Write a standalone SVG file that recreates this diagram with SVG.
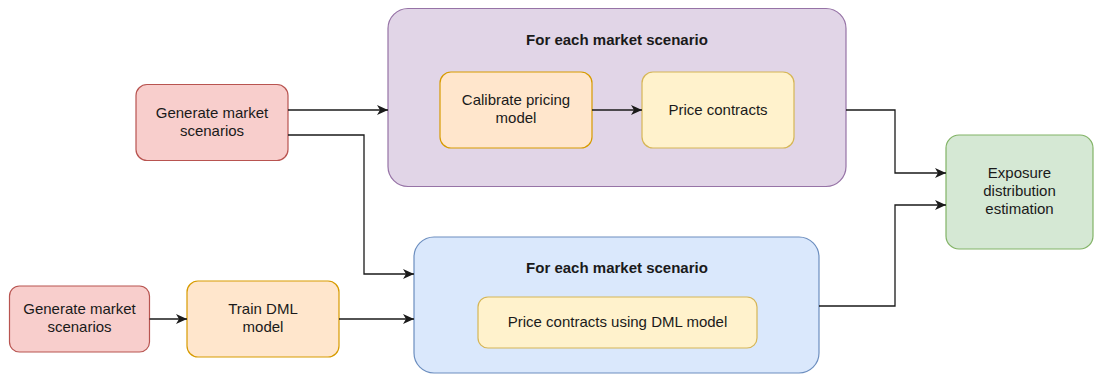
<svg xmlns="http://www.w3.org/2000/svg" width="1094" height="374" viewBox="0 0 1094 374">
<style>
text{font-family:"Liberation Sans",Arial,Helvetica,sans-serif;font-size:15px;fill:#1a1a1a;text-anchor:middle}
.t{font-weight:bold}
.red{fill:#f8cecc;stroke:#b85450}
.pur{fill:#e1d5e7;stroke:#9673a6}
.org{fill:#ffe6cc;stroke:#d79b00}
.yel{fill:#fff2cc;stroke:#d6b656}
.blu{fill:#dae8fc;stroke:#6c8ebf}
.grn{fill:#d5e8d4;stroke:#82b366}
rect{stroke-width:1.2}
.e{fill:none;stroke:#1a1a1a;stroke-width:1.3}
</style>
<defs>
<marker id="a" markerUnits="userSpaceOnUse" markerWidth="12" markerHeight="11" refX="11" refY="5.5" orient="auto">
<path d="M0,0.5 L11,5.5 L0,10.5 L3,5.5 Z" fill="#1a1a1a"/>
</marker>
</defs>
<g id="scenario-box-top">
<rect class="pur" x="388" y="8.5" width="458" height="178" rx="20"/>
<text class="t" x="617" y="45">For each market scenario</text>
</g>
<g id="scenario-box-bottom">
<rect class="blu" x="414" y="237" width="405" height="136" rx="20"/>
<text class="t" x="617" y="273">For each market scenario</text>
</g>
<g id="gen1">
<rect class="red" x="136" y="84.5" width="152" height="76" rx="11"/>
<text x="212" y="118">Generate market</text>
<text x="212" y="136">scenarios</text>
</g>
<g id="calibrate">
<rect class="org" x="440" y="72" width="152" height="76" rx="11"/>
<text x="516" y="105">Calibrate pricing</text>
<text x="516" y="123">model</text>
</g>
<g id="price">
<rect class="yel" x="642" y="72" width="152" height="76" rx="11"/>
<text x="718" y="115">Price contracts</text>
</g>
<g id="exposure">
<rect class="grn" x="946" y="135" width="147" height="114" rx="13"/>
<text x="1019.5" y="178">Exposure</text>
<text x="1019.5" y="196">distribution</text>
<text x="1019.5" y="214">estimation</text>
</g>
<g id="gen2">
<rect class="red" x="9.5" y="286" width="140" height="66" rx="10"/>
<text x="79.5" y="314">Generate market</text>
<text x="79.5" y="332">scenarios</text>
</g>
<g id="train">
<rect class="org" x="187" y="281" width="152" height="76" rx="11"/>
<text x="263" y="314">Train DML</text>
<text x="263" y="332">model</text>
</g>
<g id="price-dml">
<rect class="yel" x="478" y="297" width="279" height="51" rx="10"/>
<text x="617.5" y="327">Price contracts using DML model</text>
</g>
<g id="connectors">
<path class="e" d="M288,110 H388" marker-end="url(#a)"/>
<path class="e" d="M288,135 H364 V274 H414" marker-end="url(#a)"/>
<path class="e" d="M592,110 H642" marker-end="url(#a)"/>
<path class="e" d="M846,110 H895 V173 H946" marker-end="url(#a)"/>
<path class="e" d="M819,306 H895 V205 H946" marker-end="url(#a)"/>
<path class="e" d="M149.5,319 H187" marker-end="url(#a)"/>
<path class="e" d="M339,319 H414" marker-end="url(#a)"/>
</g>
</svg>
